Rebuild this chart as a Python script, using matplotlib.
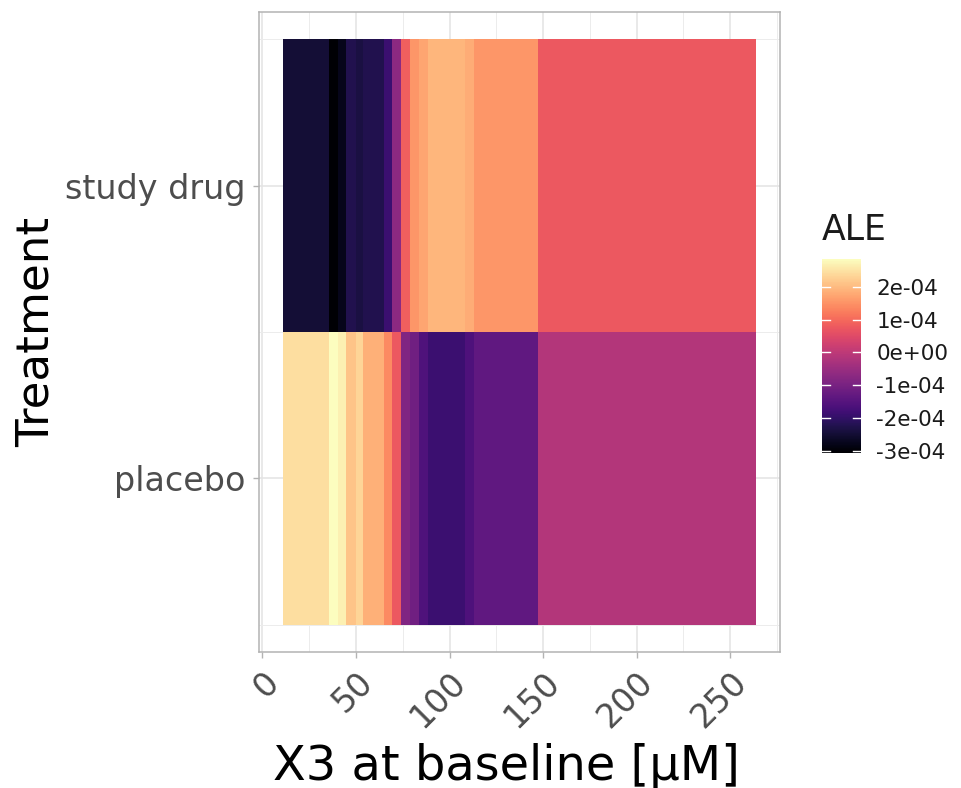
import matplotlib
matplotlib.use('Agg')
import matplotlib.pyplot as plt
import numpy as np
from matplotlib.ticker import MultipleLocator, FixedLocator

# bin edges of X3 at baseline (uM)
x_edges = [10.8, 35.3, 40.4, 44.8, 50.1, 54.0, 64.7, 69.5, 74.1, 78.9,
           83.7, 88.6, 96.1, 108.2, 113.0, 147.3, 264.0]
treatments = ['placebo', 'study drug']
# ALE values per bin (x 1e-4)
ale_placebo = [2.44, 2.85, 2.67, 2.12, 2.32, 1.87, 1.41, 0.75, -0.88, -1.12,
               -1.59, -1.89, -1.89, -1.62, -1.35, -0.14]
ale_study = [-2.48, -3.07, -2.77, -2.24, -2.36, -2.24, -1.89, -0.70, 0.84, 1.55,
             1.73, 1.94, 1.94, 1.83, 1.55, 0.75]
cbar_ticks = [-3e-4, -2e-4, -1e-4, 0, 1e-4, 2e-4]
cbar_labels = ['-3e-04', '-2e-04', '-1e-04', '0e+00', '1e-04', '2e-04']

W, H = 962, 788
fig = plt.figure(figsize=(W / 100, H / 100), dpi=100)
ax = fig.add_axes([259 / W, 1 - 652 / H, (780 - 259) / W, 640 / H])

z = np.array([ale_placebo, ale_study]) * 1e-4
y_edges = [0.5, 1.5, 2.5]
mesh = ax.pcolormesh(x_edges, y_edges, z, cmap='magma', shading='flat', zorder=2)

span = x_edges[-1] - x_edges[0]
ax.set_xlim(x_edges[0] - 0.05 * span, x_edges[-1] + 0.05 * span)
ax.set_ylim(0.407, 2.593)

ax.xaxis.set_major_locator(MultipleLocator(50))
ax.xaxis.set_minor_locator(MultipleLocator(25))
ax.yaxis.set_major_locator(FixedLocator([1, 2]))
ax.yaxis.set_minor_locator(FixedLocator([0.5, 1.5, 2.5]))
ax.set_yticklabels(treatments)

ax.grid(which='major', color='#e3e3e3', lw=1.1, zorder=0)
ax.grid(which='minor', color='#ececec', lw=0.7, zorder=0)
ax.set_axisbelow(True)
for s in ax.spines.values():
    s.set_color('#b3b3b3')
    s.set_linewidth(1.1)

ax.tick_params(which='major', length=4, width=1, color='#b3b3b3',
               labelsize=24, labelcolor='#4d4d4d', pad=6)
ax.tick_params(which='minor', length=0)
for lab in ax.get_xticklabels():
    lab.set_rotation(45)
    lab.set_ha('right')
    lab.set_rotation_mode('anchor')

ax.set_xlabel('X3 at baseline [µM]', fontsize=34.5, labelpad=6)
ax.xaxis.label.set_x(0.475)
ax.set_ylabel('Treatment', fontsize=32.5, labelpad=5)

cax = fig.add_axes([822 / W, 1 - 453 / H, 39 / W, 194 / H])
cb = fig.colorbar(mesh, cax=cax)
cb.outline.set_visible(False)
cb.set_ticks(cbar_ticks)
cb.set_ticklabels(cbar_labels)
cax.tick_params(length=0, labelsize=15.5, pad=11, labelcolor='#1a1a1a')
for t in cbar_ticks:
    cax.axhline(t, 0, 0.2, color='white', lw=1)
    cax.axhline(t, 0.8, 1, color='white', lw=1)
fig.text(822 / W, 1 - 230 / H, 'ALE', fontsize=25, va='center', ha='left', color='#1a1a1a')

fig.savefig('out.png', dpi=100)
